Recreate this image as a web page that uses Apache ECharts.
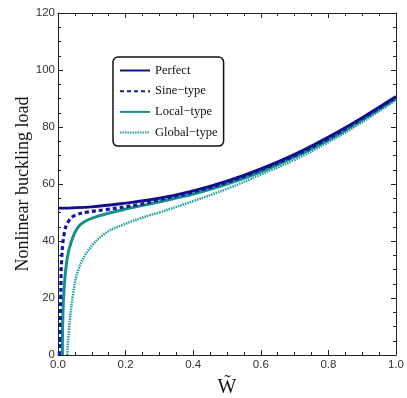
<!DOCTYPE html>
<html><head><meta charset="utf-8">
<script src="https://cdn.jsdelivr.net/npm/echarts@6/dist/echarts.min.js"></script>
<style>html,body{margin:0;padding:0;background:#fff}#c{width:407px;height:398px}</style>
</head><body><div id="c"></div>
<script>
const seriesNames = ['Perfect', 'Sine\u2212type', 'Local\u2212type', 'Global\u2212type'];
const perfectX = [0, 0.1, 0.2, 0.3, 0.4, 0.5, 0.6, 0.7, 0.8, 0.9, 1.0];
const perfectY = [51.5, 52, 53.3, 55, 57.6, 61, 65.3, 70.4, 76.5, 83.3, 90.7];
const sineX = [0.004, 0.006, 0.008, 0.011, 0.019, 0.03, 0.05, 0.09, 0.14, 0.24, 0.3, 0.4, 0.5, 0.6, 0.7, 0.8, 0.9, 1.0];
const sineY = [0, 10, 20, 34, 43, 46.7, 49, 50.2, 51, 52.8, 54.5, 57.2, 60.6, 65, 70, 76, 83, 90.5];
const localX = [0.013, 0.016, 0.026, 0.04, 0.065, 0.11, 0.19, 0.29, 0.4, 0.5, 0.6, 0.7, 0.8, 0.9, 1.0];
const localY = [0, 19, 33, 40, 45.6, 48.4, 50.9, 53.5, 56.5, 60, 64.3, 69.5, 75.5, 82.5, 90];
const globalX = [0.027, 0.035, 0.045, 0.06, 0.09, 0.14, 0.19, 0.27, 0.3, 0.4, 0.5, 0.6, 0.7, 0.8, 0.9, 1.0];
const globalY = [0, 12, 21.6, 29.8, 36.8, 42.7, 45.6, 49, 50, 54, 58.3, 63.3, 68.5, 74.7, 81.7, 89.5];
const xTicks = { min: 0, max: 1, interval: 0.2 };
const yTicks = { min: 0, max: 120, interval: 20 };

const zip = (xs, ys) => xs.map((x, i) => [x, ys[i]]);
const axisLine = () => ({ show: true, onZero: false, lineStyle: { color: '#222', width: 1 } });
const tick = () => ({ show: true, inside: true, length: 5, lineStyle: { color: '#222' } });
const minor = () => ({ show: true, splitNumber: 4, length: 3, lineStyle: { color: '#222' } });
const lbl = () => ({ color: '#333', fontSize: 11.5, fontFamily: 'Liberation Sans, Arial, sans-serif' });

const chart = echarts.init(document.getElementById('c'), null, { renderer: 'canvas' });
chart.setOption({
  animation: false,
  grid: { left: 58, right: 11, top: 13, bottom: 43, containLabel: false, outerBoundsMode: 'none' },
  legend: {
    left: 113, top: 57, orient: 'vertical', itemWidth: 30, itemHeight: 10, itemGap: 7.7,
    padding: [7, 6, 7, 6], backgroundColor: '#fff', borderColor: '#111', borderWidth: 1.5, borderRadius: 5,
    itemStyle: { opacity: 0 },
    textStyle: { fontFamily: 'Liberation Serif, Times New Roman, serif', fontSize: 12.5, color: '#111' },
    data: seriesNames
  },
  xAxis: [
    { type: 'value', gridIndex: 0, min: xTicks.min, max: xTicks.max, interval: xTicks.interval,
      axisLine: axisLine(), axisTick: tick(), minorTick: minor(), splitLine: { show: false },
      axisLabel: Object.assign({ formatter: v => v.toFixed(1), margin: 4 }, lbl()),
      name: 'W\u0303', nameLocation: 'middle', nameGap: 23, nameMoveOverlap: false,
      nameTextStyle: { fontFamily: 'Liberation Serif, Times New Roman, serif', fontSize: 20, color: '#111' } },
    { type: 'value', gridIndex: 0, position: 'top', min: xTicks.min, max: xTicks.max, interval: xTicks.interval,
      axisLine: axisLine(), axisTick: tick(), minorTick: minor(), splitLine: { show: false }, axisLabel: { show: false } }
  ],
  yAxis: [
    { type: 'value', gridIndex: 0, min: yTicks.min, max: yTicks.max, interval: yTicks.interval,
      axisLine: axisLine(), axisTick: tick(), minorTick: minor(), splitLine: { show: false },
      axisLabel: Object.assign({ margin: 3 }, lbl()),
      name: 'Nonlinear buckling load', nameLocation: 'middle', nameGap: 26, nameMoveOverlap: false,
      nameTextStyle: { fontFamily: 'Liberation Serif, Times New Roman, serif', fontSize: 18, color: '#111' } },
    { type: 'value', gridIndex: 0, position: 'right', min: yTicks.min, max: yTicks.max, interval: yTicks.interval,
      axisLine: axisLine(), axisTick: tick(), minorTick: minor(), splitLine: { show: false }, axisLabel: { show: false } }
  ],
  series: [
    { name: seriesNames[3], type: 'line', smooth: 0.4, showSymbol: false, symbol: 'none', data: zip(globalX, globalY),
      lineStyle: { color: '#22a0a0', width: 2.5, type: [1.5, 1] }, itemStyle: { color: '#22a0a0' } },
    { name: seriesNames[2], type: 'line', smooth: 0.4, showSymbol: false, symbol: 'none', data: zip(localX, localY),
      lineStyle: { color: '#13918a', width: 3 }, itemStyle: { color: '#13918a' } },
    { name: seriesNames[1], type: 'line', smooth: 0.4, showSymbol: false, symbol: 'none', data: zip(sineX, sineY),
      lineStyle: { color: '#1616a0', width: 3.2, type: [4, 3] }, itemStyle: { color: '#1616a0' } },
    { name: seriesNames[0], type: 'line', smooth: 0.4, showSymbol: false, symbol: 'none', data: zip(perfectX, perfectY),
      lineStyle: { color: '#10108f', width: 2.8 }, itemStyle: { color: '#10108f' } }
  ]
});
</script></body></html>
